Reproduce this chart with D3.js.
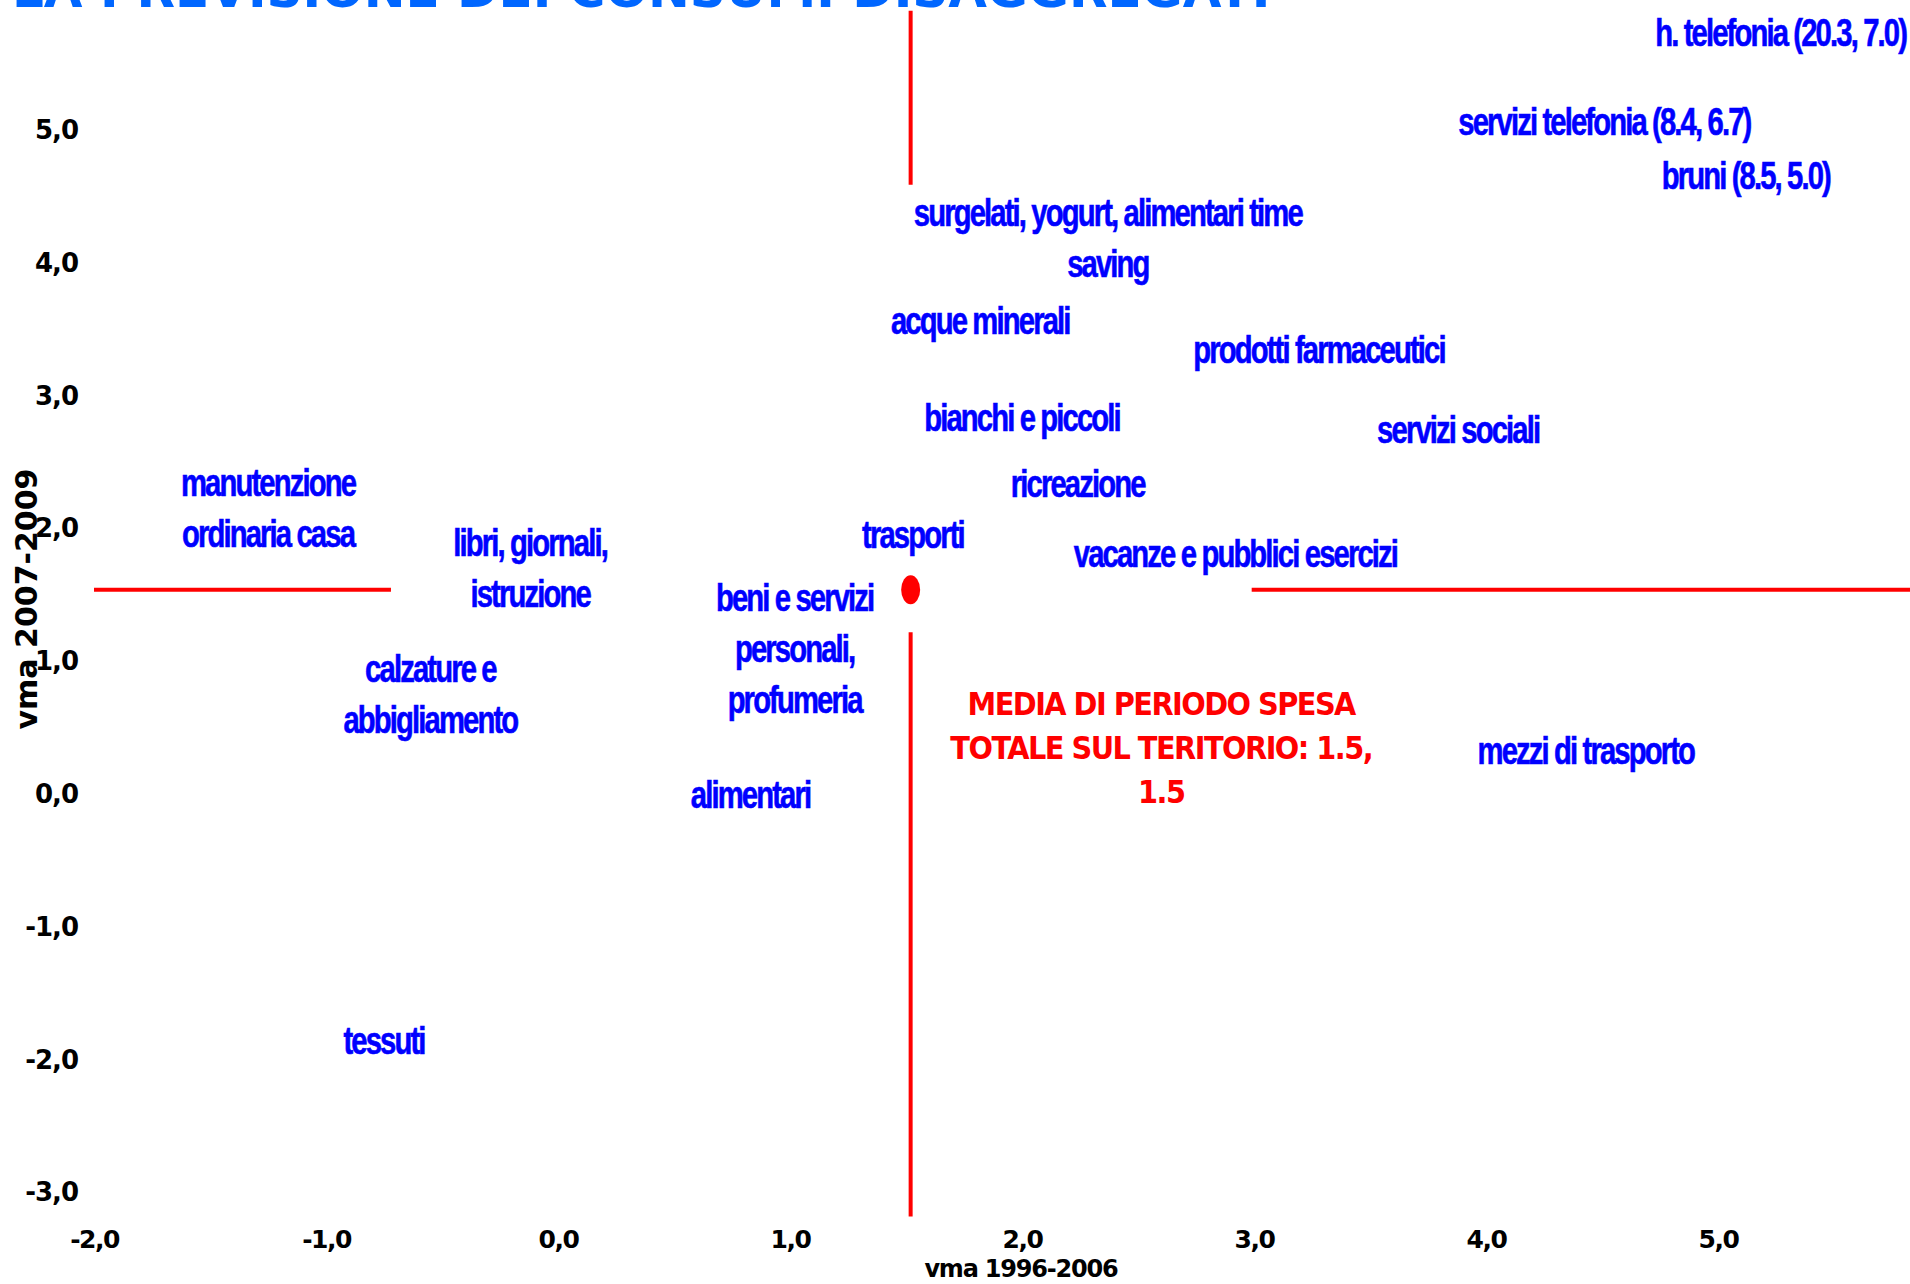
<!DOCTYPE html>
<html>
<head>
<meta charset="utf-8">
<script src="https://cdn.jsdelivr.net/npm/d3@7"></script>
<style>
  html, body { margin: 0; padding: 0; background: #fff; overflow: hidden; }
  svg { display: block; }
</style>
</head>
<body>
<svg id="chart" width="1910" height="1284"></svg>
<script>
// Spending categories: average annual change 1996-2006 (x) against 2007-2009 (y)
const categories = [
  "surgelati, yogurt, alimentari time\nsaving",
  "acque minerali",
  "prodotti farmaceutici",
  "bianchi e piccoli",
  "servizi sociali",
  "ricreazione",
  "manutenzione\nordinaria casa",
  "trasporti",
  "libri, giornali,\nistruzione",
  "vacanze e pubblici esercizi",
  "beni e servizi\npersonali,\nprofumeria",
  "calzature e\nabbigliamento",
  "mezzi di trasporto",
  "alimentari",
  "tessuti"
];
const vma19962006 = [2.37, 1.82, 3.28, 2.00, 3.88, 2.24, -1.25, 1.53, -0.12, 2.92, 1.02, -0.55, 4.43, 0.83, -0.75];
const vma20072009 = [4.16, 3.54, 3.32, 2.81, 2.72, 2.31, 2.13, 1.93, 1.68, 1.79, 1.07, 0.73, 0.30, -0.03, -1.88];

// Categories beyond the plotted range: true values, and where their label is placed
const outCategories = ["h. telefonia", "servizi telefonia", "bruni"];
const outX = [20.3, 8.4, 8.5];
const outY = [7.0, 6.7, 5.0];
const outLabelX = [5.27, 4.51, 5.12];
const outLabelY = [5.71, 5.04, 4.63];

// Period mean of total spending on the territory
const meanX = 1.52;
const meanY = 1.54;
// Visible stretches of the two mean lines (data units)
const meanVSegments = [[4.59, 5.90], [-3.18, 1.22]];
const meanHSegments = [[-2.0, -0.72], [2.99, 6.2]];

const xTicks = [-2, -1, 0, 1, 2, 3, 4, 5];
const yTicks = [5, 4, 3, 2, 1, 0, -1, -2, -3];

const titleText = "LA PREVISIONE DEI CONSUMI DISAGGREGATI";
const xTitle = "vma 1996-2006";
const yTitle = "vma 2007-2009";

const svg = d3.select("#chart");
const x = d3.scaleLinear().domain([-2, 5]).range([94, 1718]);
const y = d3.scaleLinear().domain([-3, 5]).range([1192.5, 130.3]);
const fmtTick = d => d.toFixed(1).replace(".", ",");
const fmt1 = d => d.toFixed(1);

const BLUE = "#0000ff";
const RED = "#ff0000";

// Title (runs off the top edge)
svg.append("text")
  .attr("x", 12).attr("y", 7)
  .attr("font-family", "'DejaVu Sans', Verdana, sans-serif")
  .attr("font-weight", "bold")
  .attr("font-size", 50)
  .attr("fill", "#0066ff")
  .text(titleText);

// Mean lines
svg.append("g").selectAll("line")
  .data(meanVSegments).join("line")
  .attr("x1", x(meanX)).attr("x2", x(meanX))
  .attr("y1", d => y(d[0])).attr("y2", d => y(d[1]))
  .attr("stroke", RED).attr("stroke-width", 4);
svg.append("g").selectAll("line")
  .data(meanHSegments).join("line")
  .attr("y1", y(meanY)).attr("y2", y(meanY))
  .attr("x1", d => x(d[0])).attr("x2", d => x(d[1]))
  .attr("stroke", RED).attr("stroke-width", 4);

// Mean point
svg.append("ellipse")
  .attr("cx", x(meanX)).attr("cy", y(meanY))
  .attr("rx", 9.5).attr("ry", 14.5)
  .attr("fill", RED);

// Y axis
const yAxis = svg.append("g")
  .attr("transform", "translate(78,0)")
  .call(d3.axisLeft(y).tickValues(yTicks).tickFormat(fmtTick).tickSize(0).tickPadding(0));
yAxis.select(".domain").remove();
yAxis.selectAll("text")
  .attr("font-family", "'DejaVu Sans', Verdana, sans-serif")
  .attr("font-weight", "bold")
  .attr("font-size", 26)
  .attr("letter-spacing", "-1px")
  .attr("fill", "#000");
yAxis.attr("font-size", null).attr("font-family", null);

// X axis
const xAxis = svg.append("g")
  .attr("transform", "translate(0,1230)")
  .call(d3.axisBottom(x).tickValues(xTicks).tickFormat(fmtTick).tickSize(0).tickPadding(0));
xAxis.select(".domain").remove();
xAxis.selectAll("text")
  .attr("font-family", "'DejaVu Sans', Verdana, sans-serif")
  .attr("font-weight", "bold")
  .attr("font-size", 25)
  .attr("letter-spacing", "-1.5px")
  .attr("fill", "#000");
xAxis.attr("font-size", null).attr("font-family", null);

// Axis titles
svg.append("text")
  .attr("transform", "translate(1021,1277)")
  .attr("text-anchor", "middle")
  .attr("font-family", "'DejaVu Sans', Verdana, sans-serif")
  .attr("font-weight", "bold")
  .attr("font-size", 24)
  .attr("letter-spacing", "-1.2px")
  .attr("fill", "#000")
  .text(xTitle);
svg.append("text")
  .attr("transform", "translate(37,599) rotate(-90)")
  .attr("text-anchor", "middle")
  .attr("font-family", "'DejaVu Sans', Verdana, sans-serif")
  .attr("font-weight", "bold")
  .attr("font-size", 30)
  .attr("fill", "#000")
  .text(yTitle);

// Category labels, centred on each point (tight, condensed Arial-style bold)
function categoryLabel(text, px, py) {
  const lines = text.split("\n");
  const g = svg.append("g").attr("transform", `translate(${px},${py})`);
  const t = g.append("text")
    .attr("transform", "scale(0.75,1)")
    .attr("text-anchor", "middle")
    .attr("font-family", "'Liberation Sans', Arial, sans-serif")
    .attr("font-weight", "bold")
    .attr("font-size", 39)
    .attr("letter-spacing", "-2.5px")
    .attr("fill", BLUE)
    .attr("stroke", BLUE)
    .attr("stroke-width", 0.6);
  lines.forEach((ln, i) => {
    t.append("tspan")
      .attr("x", 0)
      .attr("y", (i - (lines.length - 1) / 2) * 51 + 10)
      .text(ln);
  });
}

const points = categories.map((c, i) => ({ name: c, vx: vma19962006[i], vy: vma20072009[i] }));
points.forEach(p => categoryLabel(p.name, x(p.vx), y(p.vy)));

outCategories.forEach((c, i) => {
  categoryLabel(`${c} (${fmt1(outX[i])}, ${fmt1(outY[i])})`, x(outLabelX[i]), y(outLabelY[i]));
});

// Mean annotation
const meanLines = [
  "MEDIA DI PERIODO SPESA",
  `TOTALE SUL TERITORIO: ${fmt1(meanX)},`,
  fmt1(meanY)
];
const ann = svg.append("g").attr("transform", `translate(${x(2.6)},${y(0.264)})`);
const annText = ann.append("text")
  .attr("transform", "scale(0.9,1)")
  .attr("text-anchor", "middle")
  .attr("font-family", "'DejaVu Sans', Verdana, sans-serif")
  .attr("font-weight", "bold")
  .attr("font-size", 32)
  .attr("letter-spacing", "-1.7px")
  .attr("fill", RED);
meanLines.forEach((ln, i) => {
  annText.append("tspan").attr("x", 0).attr("y", (i - 1) * 44).text(ln);
});
</script>
</body>
</html>
